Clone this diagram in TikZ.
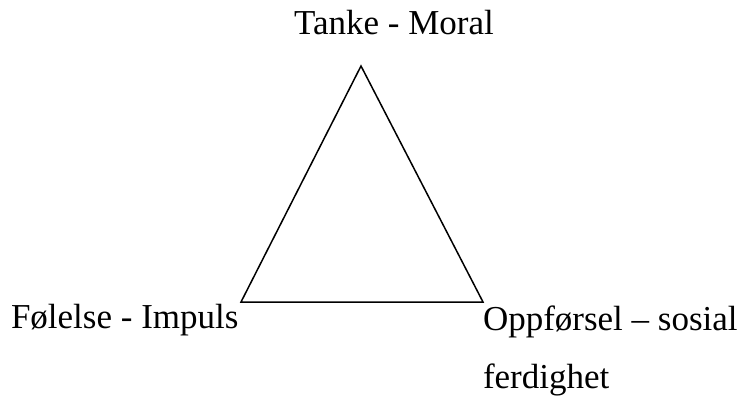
\documentclass[tikz,border=0pt]{standalone}
\usepackage{fontspec}
\setmainfont{Liberation Serif}
\usepackage{tikz}
\usetikzlibrary{calc}
\tikzset{
  hjorne/.style = {inner sep=0pt, outer sep=0pt,
    font=\fontsize{35}{58}\selectfont},
  kant/.style = {line width=1.5pt, line join=miter}
}

\begin{document}
\begin{tikzpicture}[x=1pt,y=-1pt]

  \useasboundingbox (0,0) rectangle (741,396);

  \coordinate (topp) at (361,66);
  \coordinate (venstre) at (241,302);
  \coordinate (hoyre) at (483,302);

  \draw[kant] (topp) -- (venstre) -- (hoyre) -- cycle;

  \node[hjorne, anchor=base] (tanke) at (394,35) {Tanke - Moral};
  \node[hjorne, anchor=base west] (folelse) at (11,328) {Følelse - Impuls};
  % base = grunnlinja til siste linje
  \node[hjorne, anchor=base west, align=left] (oppforsel) at (483,388)
     {Oppførsel – sosial\\ferdighet};

\end{tikzpicture}
\end{document}
